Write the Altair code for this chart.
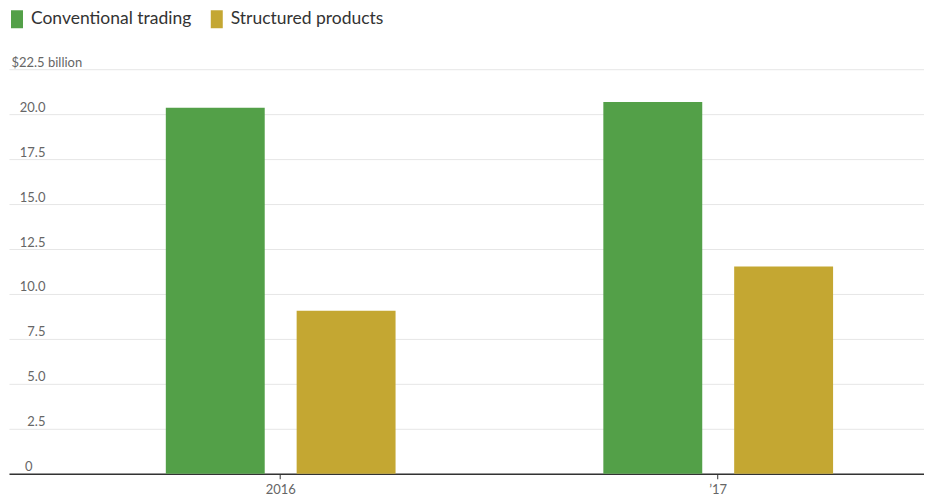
import altair as alt
import pandas as pd

years = ["2016", "\u201917"]
series = ["Conventional trading", "Structured products"]
conventional = [20.35, 20.68]
structured = [9.07, 11.52]
colors = ["#53a048", "#c4a732"]
y_ticks = [0, 2.5, 5, 7.5, 10, 12.5, 15, 17.5, 20, 22.5]

rows = []
for i, yr in enumerate(years):
    rows.append({"year": yr, "series": series[0], "value": conventional[i]})
    rows.append({"year": yr, "series": series[1], "value": structured[i]})
df = pd.DataFrame(rows)

FONT = "Lato"

chart = alt.Chart(df).mark_bar().encode(
    x=alt.X("year:N", sort=years, title=None,
            scale=alt.Scale(paddingInner=0.4749, paddingOuter=0.2831, align=0.633),
            axis=alt.Axis(labelAngle=0, domainColor="#333333", domainWidth=1.5,
                          tickColor="#333333", tickSize=5, labelPadding=5,
                          labelColor="#666666", labelFontSize=13, labelFont=FONT,
                          grid=False)),
    xOffset=alt.XOffset("series:N", sort=series,
                        scale=alt.Scale(paddingInner=0.244, paddingOuter=0)),
    y=alt.Y("value:Q", title=None,
            scale=alt.Scale(domain=[0, 22.5], nice=False),
            axis=alt.Axis(values=y_ticks, domain=False, ticks=False,
                          gridColor="#e6e6e6", gridWidth=1,
                          labelExpr="datum.value == 22.5 ? '$22.5 billion' : (datum.value == 0 ? '0' : format(datum.value, '.1f'))",
                          labelAlign={"condition": {"test": "datum.value == 22.5", "value": "left"}, "value": "right"},
                          labelPadding={"condition": [{"test": "datum.value == 22.5", "value": -2},
                                                      {"test": "datum.value == 0", "value": -23}],
                                        "value": -36},
                          labelBaseline="bottom", labelOffset=0,
                          labelColor="#666666", labelFontSize=13, labelFont=FONT)),
    color=alt.Color("series:N", sort=series,
                    scale=alt.Scale(domain=series, range=colors),
                    legend=alt.Legend(title=None, orient="none", legendX=-1, legendY=-59,
                                      direction="horizontal",
                                      symbolType="M-0.667,-1H0.667V1H-0.667Z",
                                      symbolSize=324, symbolStrokeWidth=0,
                                      symbolOpacity=1, labelFontSize=17.5,
                                      labelLimit=400,
                                      labelColor="#333333", labelFont=FONT,
                                      columnPadding=16, labelOffset=5)),
).properties(
    width=916, height=405,
    padding={"top": 2, "left": 0, "right": 0, "bottom": 0},
).configure_view(stroke=None).configure_axis(
    labelFlush=False
)

chart.save("out.html", embed_options={"renderer": "svg", "actions": False})
